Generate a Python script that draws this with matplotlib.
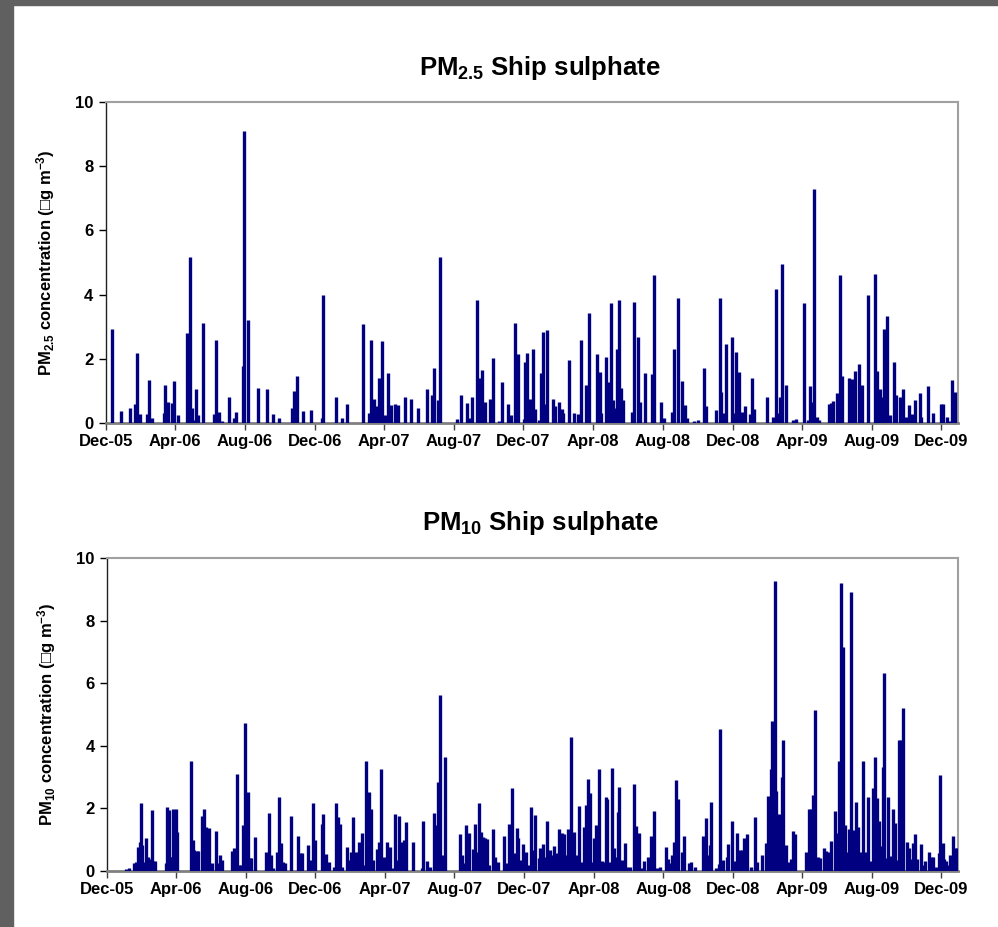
import numpy as np
import matplotlib
matplotlib.use("Agg")
import matplotlib.pyplot as plt
import matplotlib.dates as mdates
from matplotlib.patches import Rectangle

# days counted from 1 Dec 2005
start = np.datetime64("2005-12-01")

pm25_days = [11, 26, 42, 50, 55, 59, 71, 75, 81, 101, 104, 109, 115, 119, 126, 141, 147, 150, 154, 158,
             161, 170, 188, 192, 197, 203, 215, 224, 227, 239, 242, 248, 266, 281, 292, 302, 325, 328, 334, 345,
             358, 377, 380, 403, 413, 422, 450, 460, 463, 469, 473, 477, 483, 488, 493, 499, 505, 511, 523, 534,
             545, 561, 570, 574, 580, 584, 614, 620, 632, 635, 640, 649, 653, 658, 662, 672, 677, 687, 693, 703,
             709, 715, 720, 731, 732, 737, 742, 747, 750, 757, 760, 764, 767, 772, 781, 785, 793, 797, 800, 809,
             819, 826, 831, 840, 844, 859, 864, 866, 875, 879, 884, 887, 891, 894, 898, 901, 905, 920, 924, 930,
             934, 943, 954, 958, 970, 975, 990, 994, 1001, 1008, 1013, 1016, 1029, 1036, 1046, 1049, 1067, 1073, 1076, 1080,
             1085, 1094, 1097, 1102, 1107, 1113, 1118, 1126, 1130, 1133, 1156, 1166, 1171, 1175, 1179, 1183, 1189, 1201, 1206, 1220,
             1228, 1232, 1235, 1239, 1243, 1247, 1264, 1268, 1272, 1278, 1283, 1288, 1299, 1304, 1309, 1316, 1322, 1333, 1344, 1349,
             1353, 1357, 1360, 1366, 1371, 1378, 1382, 1389, 1393, 1399, 1404, 1410, 1415, 1423, 1426, 1438, 1447, 1460, 1464, 1470,
             1476, 1480, 1484]
pm25_vals = [2.94, 0.37, 0.48, 0.59, 2.18, 0.28, 0.28, 1.34, 0.17, 0.30, 1.17, 0.66, 0.61, 1.32, 0.24, 2.79, 5.18, 0.48, 0.09, 1.05,
             0.25, 3.10, 0.28, 2.60, 0.34, 0.07, 0.82, 0.15, 0.34, 1.78, 9.09, 3.22, 1.10, 1.07, 0.28, 0.17, 0.48, 1.00, 1.45, 0.37,
             0.40, 0.15, 4.00, 0.80, 0.17, 0.59, 3.07, 0.30, 2.60, 0.75, 0.54, 1.41, 2.55, 0.25, 1.56, 0.56, 0.59, 0.55, 0.80, 0.75,
             0.48, 1.07, 0.86, 1.70, 0.73, 5.18, 0.11, 0.86, 0.61, 0.15, 0.82, 3.83, 1.41, 1.65, 0.65, 0.75, 2.04, 0.07, 1.28, 0.59,
             0.24, 3.10, 2.14, 0.11, 1.89, 2.17, 0.75, 2.32, 0.44, 0.09, 1.56, 2.83, 0.59, 2.90, 0.75, 0.52, 0.65, 0.44, 0.30, 1.97,
             0.30, 0.27, 2.60, 1.17, 3.42, 2.14, 1.59, 0.32, 2.07, 1.28, 3.73, 0.73, 0.48, 2.32, 3.83, 1.10, 0.73, 0.35, 3.77, 2.69,
             0.65, 1.56, 1.52, 4.60, 0.65, 0.15, 0.34, 2.32, 3.90, 1.31, 0.55, 0.15, 0.07, 0.09, 1.70, 0.52, 0.40, 3.90, 0.96, 0.32,
             2.45, 2.69, 0.32, 2.21, 1.58, 0.34, 0.52, 0.28, 1.41, 0.44, 0.82, 0.20, 4.17, 0.30, 0.82, 4.94, 1.17, 0.09, 0.12, 3.73,
             0.09, 1.14, 0.66, 7.28, 0.20, 0.09, 0.59, 0.61, 0.69, 0.92, 4.60, 1.45, 1.41, 1.38, 1.62, 1.83, 1.17, 3.98, 4.63, 1.62,
             1.05, 0.82, 2.92, 3.34, 0.25, 1.90, 0.86, 0.82, 1.07, 0.20, 0.56, 0.28, 0.72, 0.92, 0.20, 1.14, 0.31, 0.59, 0.59, 0.20,
             0.07, 1.33, 0.96]

pm10_days = [34, 39, 48, 51, 55, 57, 59, 62, 65, 69, 72, 74, 79, 81, 84, 103, 105, 109, 111, 114,
             116, 121, 123, 147, 150, 153, 157, 160, 166, 170, 173, 176, 179, 183, 190, 193, 198, 201, 218, 222,
             227, 231, 235, 238, 241, 244, 247, 250, 253, 260, 279, 284, 287, 291, 298, 301, 304, 308, 312, 323,
             334, 338, 342, 352, 356, 361, 365, 377, 379, 384, 388, 397, 401, 405, 408, 412, 421, 423, 428, 431,
             435, 439, 442, 446, 450, 453, 459, 462, 466, 473, 476, 480, 485, 490, 495, 500, 505, 509, 512, 516,
             517, 520, 523, 535, 551, 554, 561, 566, 572, 575, 579, 583, 586, 591, 618, 622, 626, 629, 633, 640,
             642, 645, 647, 651, 655, 659, 662, 665, 669, 676, 680, 685, 695, 699, 703, 709, 713, 717, 720, 724,
             728, 733, 737, 742, 746, 749, 756, 759, 763, 766, 771, 775, 780, 783, 788, 792, 796, 800, 803, 808,
             813, 817, 823, 827, 832, 836, 839, 842, 845, 849, 852, 856, 862, 866, 870, 873, 876, 880, 884, 888,
             891, 894, 897, 901, 907, 911, 916, 923, 927, 931, 937, 941, 948, 953, 957, 963, 969, 978, 982, 985,
             990, 992, 996, 1000, 1006, 1010, 1019, 1023, 1029, 1043, 1048, 1053, 1056, 1058, 1067, 1071, 1074, 1079, 1085, 1087,
             1094, 1097, 1103, 1108, 1112, 1116, 1121, 1127, 1134, 1138, 1147, 1153, 1158, 1162, 1165, 1169, 1172, 1177, 1181, 1184,
             1189, 1193, 1197, 1201, 1205, 1224, 1229, 1233, 1236, 1240, 1245, 1249, 1255, 1259, 1263, 1268, 1275, 1279, 1281, 1285,
             1288, 1292, 1296, 1299, 1303, 1306, 1311, 1315, 1319, 1323, 1328, 1333, 1337, 1342, 1345, 1348, 1352, 1355, 1358, 1360,
             1364, 1367, 1371, 1376, 1380, 1383, 1387, 1391, 1394, 1401, 1404, 1408, 1411, 1415, 1419, 1425, 1428, 1432, 1440, 1443,
             1447, 1452, 1456, 1459, 1463, 1466, 1469, 1473, 1476, 1481, 1484, 1488]
pm10_vals = [0.06, 0.11, 0.25, 0.28, 0.78, 0.94, 2.18, 0.83, 0.28, 1.04, 0.46, 0.37, 1.94, 0.33, 0.32, 0.25, 2.05, 1.96, 0.44, 0.44,
             1.99, 1.99, 1.25, 3.51, 0.99, 0.67, 0.63, 0.63, 1.77, 1.99, 1.40, 0.67, 1.37, 0.25, 1.29, 0.25, 0.50, 0.35, 0.65, 0.72,
             3.09, 0.19, 0.19, 1.46, 4.72, 0.19, 2.53, 0.41, 0.41, 1.10, 0.62, 1.85, 0.51, 0.11, 0.62, 2.37, 0.89, 0.29, 0.25, 1.77,
             1.13, 0.57, 0.57, 0.83, 0.35, 2.17, 0.99, 1.50, 1.83, 0.54, 0.29, 0.14, 2.17, 1.74, 1.50, 0.14, 0.78, 0.35, 0.62, 1.74,
             0.62, 0.62, 0.92, 1.21, 0.19, 3.51, 2.53, 1.98, 0.35, 0.69, 0.94, 3.27, 0.46, 0.94, 0.78, 0.09, 1.82, 0.35, 1.77, 0.94,
             0.51, 0.99, 1.55, 0.94, 0.09, 1.60, 0.32, 0.14, 1.85, 1.47, 2.84, 5.62, 0.51, 3.65, 1.19, 0.51, 0.25, 1.46, 1.21, 0.69,
             0.67, 1.51, 0.62, 2.17, 1.26, 1.10, 1.07, 1.01, 0.19, 1.34, 0.46, 0.28, 1.13, 0.27, 1.51, 2.65, 0.57, 1.37, 1.05, 0.35,
             0.85, 0.62, 0.19, 2.03, 0.67, 1.78, 0.41, 0.73, 0.85, 0.46, 1.61, 0.67, 0.51, 0.80, 0.57, 1.34, 1.21, 1.19, 0.51, 1.34,
             4.27, 1.24, 0.51, 2.08, 0.30, 1.42, 2.12, 2.94, 2.49, 0.30, 1.05, 1.47, 3.27, 0.33, 0.30, 2.37, 2.31, 0.30, 3.29, 0.73,
             0.46, 1.87, 2.67, 0.35, 0.89, 0.14, 0.14, 2.78, 1.44, 1.21, 0.09, 0.33, 0.44, 1.13, 1.93, 0.09, 0.14, 0.78, 0.37, 0.27,
             0.51, 0.94, 2.90, 2.31, 0.62, 1.12, 0.25, 0.29, 0.14, 1.12, 1.69, 0.51, 0.82, 2.19, 0.09, 0.22, 4.54, 0.35, 0.46, 0.85,
             1.61, 0.33, 1.23, 0.67, 0.67, 1.05, 1.19, 0.14, 1.74, 0.30, 0.50, 0.91, 2.40, 3.27, 4.79, 9.28, 2.54, 1.82, 2.99, 4.20,
             0.83, 0.30, 0.37, 1.29, 1.19, 0.62, 1.99, 1.99, 2.44, 5.14, 0.46, 0.41, 0.73, 0.65, 0.62, 0.97, 1.92, 1.23, 3.50, 9.19,
             7.17, 1.47, 0.62, 1.34, 8.92, 1.31, 2.19, 1.42, 0.62, 3.53, 0.62, 2.35, 0.33, 2.65, 3.65, 2.33, 1.61, 0.80, 3.32, 6.31,
             0.41, 2.35, 0.48, 1.99, 1.53, 0.35, 4.20, 4.20, 5.20, 0.94, 0.73, 0.37, 0.91, 1.19, 0.37, 0.85, 0.19, 0.33, 0.61, 0.46,
             0.44, 0.14, 0.57, 3.06, 0.89, 0.37, 0.33, 0.19, 0.51, 1.12, 0.73, 0.73]

y_ticks = [0, 2, 4, 6, 8, 10]

plt.rcParams["font.family"] = ["Liberation Sans", "DejaVu Sans"]
plt.rcParams["font.weight"] = "bold"
plt.rcParams["mathtext.fontset"] = "custom"
plt.rcParams["mathtext.rm"] = "Liberation Sans:bold"
plt.rcParams["mathtext.it"] = "Liberation Sans:bold"
plt.rcParams["mathtext.bf"] = "Liberation Sans:bold"
plt.rcParams["mathtext.default"] = "rm"

navy = "#000080"

fig = plt.figure(figsize=(9.98, 9.27), dpi=100)
fig.patches.append(Rectangle((0, 0), 13 / 998, 1, transform=fig.transFigure, color="#606060", zorder=-1))
fig.patches.append(Rectangle((0, 1 - 5 / 927), 1, 5 / 927, transform=fig.transFigure, color="#606060", zorder=-1))


def panel(rect, days, vals, title, ylab, ty):
    ax = fig.add_axes(rect)
    d = start + np.array(days).astype("timedelta64[D]")
    ax.vlines(d, 0, vals, color=navy, lw=2.4, zorder=3)
    ax.set_xlim(start, start + np.timedelta64(1490, "D"))
    ax.set_ylim(0, 10)
    ax.set_yticks(y_ticks)
    ax.xaxis.set_major_locator(mdates.MonthLocator(bymonth=[4, 8, 12]))
    ax.xaxis.set_major_formatter(mdates.DateFormatter("%b-%y"))
    ax.tick_params(axis="y", direction="out", length=5, width=1, labelsize=12, pad=4, colors="black")
    ax.tick_params(axis="x", direction="out", length=5, width=1, labelsize=12, pad=3, color="#404040")
    for lab in ax.get_xticklabels() + ax.get_yticklabels():
        lab.set_fontweight("bold")
    ax.spines["left"].set_color("#202020")
    ax.spines["left"].set_linewidth(1.0)
    ax.spines["bottom"].set_color("#808080")
    ax.spines["bottom"].set_linewidth(2.0)
    for s in ["top", "right"]:
        ax.spines[s].set_color("#a0a0a0")
        ax.spines[s].set_linewidth(1.5)
    ax.set_ylabel(ylab, fontsize=12, fontweight="bold")
    ax.yaxis.set_label_coords(-0.058, 0.5)
    fig.text(540 / 998, ty, title, fontsize=18.5, fontweight="bold", ha="center", va="center")
    return ax


panel([106 / 998, 1 - 423 / 927, 852 / 998, 321 / 927], pm25_days, pm25_vals,
      "PM$_{2.5}$ Ship sulphate", "PM$_{2.5}$ concentration (\u25a1g m$^{-3}$)", 1 - 68 / 927)
panel([107 / 998, 1 - 871 / 927, 851 / 998, 313 / 927], pm10_days, pm10_vals,
      "PM$_{10}$ Ship sulphate", "PM$_{10}$ concentration (\u25a1g m$^{-3}$)", 1 - 523 / 927)

fig.savefig("out.png", dpi=100, facecolor="white")
